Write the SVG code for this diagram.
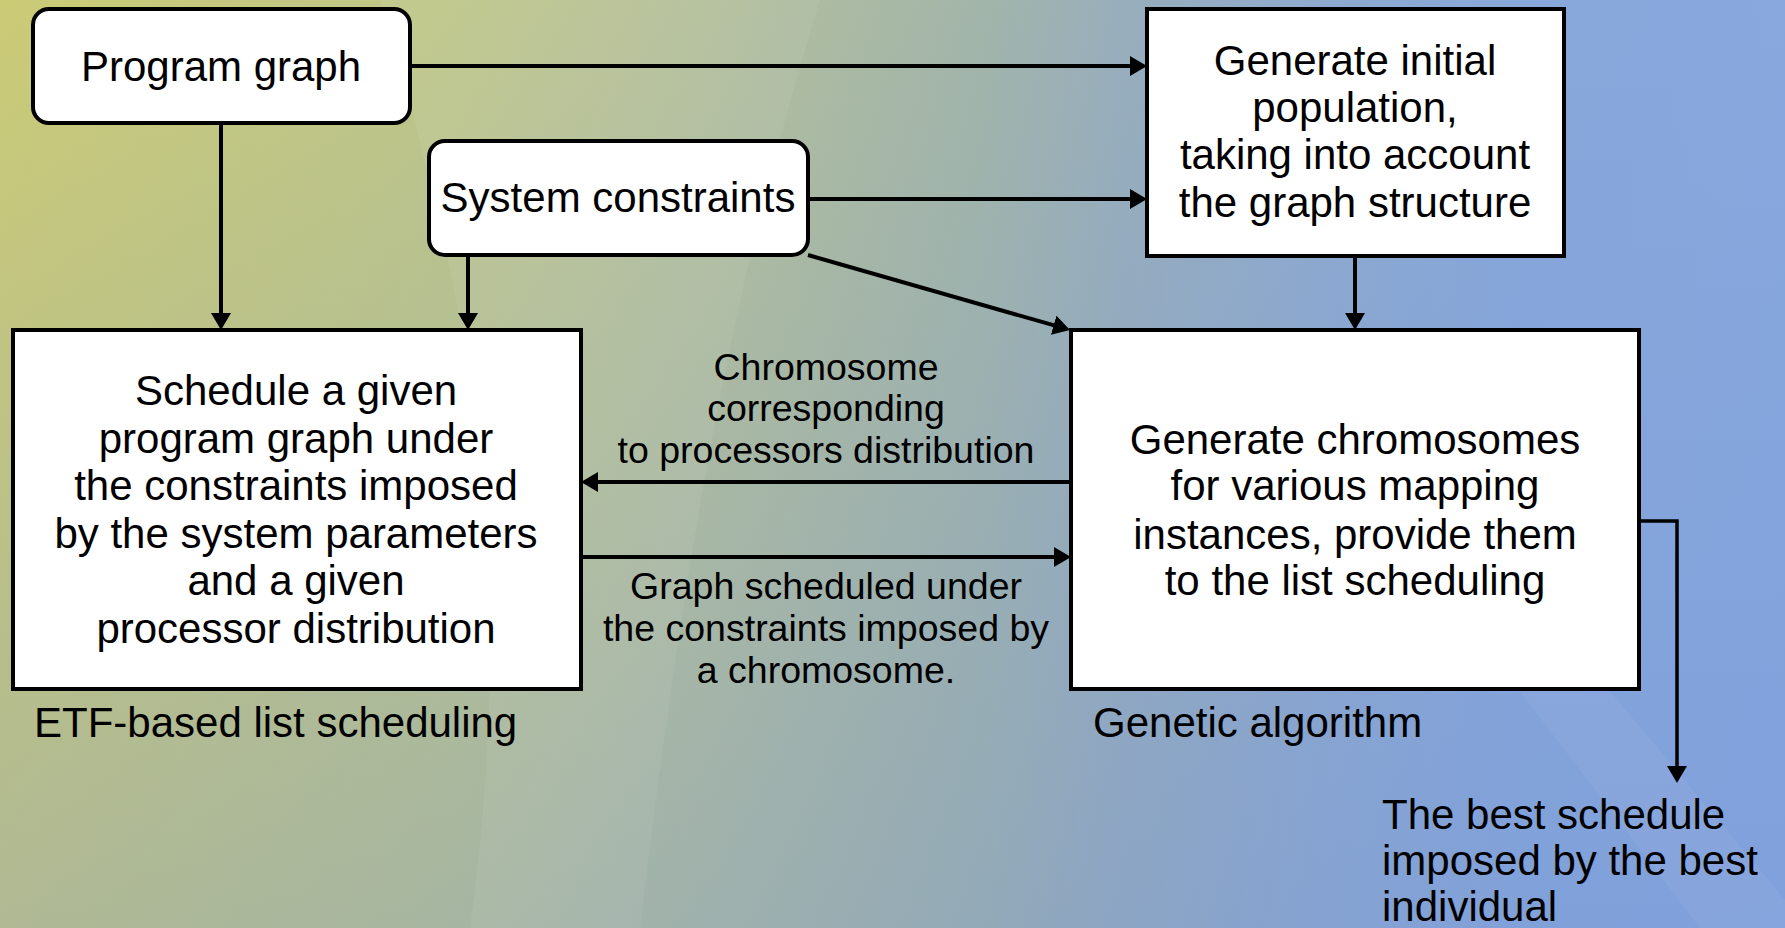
<svg xmlns="http://www.w3.org/2000/svg" width="1785" height="928" viewBox="0 0 1785 928">
  <defs>
    <!-- backdrop: warm olive on the left fading into slate blue on the right -->
    <linearGradient id="bg" gradientUnits="userSpaceOnUse" x1="0" y1="0" x2="1785" y2="0">
      <stop offset="0" stop-color="#cbcb76"/>
      <stop offset="0.25" stop-color="#bec689"/>
      <stop offset="0.4" stop-color="#b3bf9b"/>
      <stop offset="0.55" stop-color="#a2b5aa"/>
      <stop offset="0.63" stop-color="#98aebc"/>
      <stop offset="0.75" stop-color="#8eaad0"/>
      <stop offset="0.85" stop-color="#88a8da"/>
      <stop offset="1" stop-color="#88a8de"/>
    </linearGradient>
    <linearGradient id="shade" gradientUnits="userSpaceOnUse" x1="0" y1="0" x2="0" y2="928">
      <stop offset="0" stop-color="#6f8fd8" stop-opacity="0"/>
      <stop offset="1" stop-color="#6f8fd8" stop-opacity="0.3"/>
    </linearGradient>
    <marker id="arrow" markerUnits="userSpaceOnUse" markerWidth="17" markerHeight="20" refX="7" refY="10" orient="auto" viewBox="0 0 17 20">
      <path d="M0,0 L17,10 L0,20 z" fill="#000"/>
    </marker>
  </defs>
  <style>
    .box { fill: #fff; stroke: #000; stroke-width: 4; }
    .t { font-family: "Liberation Sans", Arial, sans-serif; font-size: 42px; fill: #000; }
    .c { text-anchor: middle; }
    .lbl { font-family: "Liberation Sans", Arial, sans-serif; font-size: 37.5px; fill: #000; text-anchor: middle; }
    .wire { fill: none; stroke: #000; stroke-width: 4; }
    .wire-thin { fill: none; stroke: #000; stroke-width: 3.5; }
  </style>

  <!-- background -->
  <rect x="0" y="0" width="1785" height="928" fill="url(#bg)"/>
  <rect x="0" y="0" width="1785" height="928" fill="url(#shade)"/>
  <path d="M380,0 L820,0 C760,200 700,420 640,928 L470,928 C520,560 470,300 380,0 z" fill="#ffffff" opacity="0.06"/>
  <path d="M1420,560 L1500,560 L1785,900 L1785,928 L1700,928 z" fill="#ffffff" opacity="0.05"/>

  <!-- connectors -->
  <g id="connectors">
    <line class="wire" x1="410" y1="66" x2="1137" y2="66" marker-end="url(#arrow)"/>
    <line class="wire" x1="808" y1="199" x2="1137" y2="199" marker-end="url(#arrow)"/>
    <line class="wire" x1="221" y1="123" x2="221" y2="320" marker-end="url(#arrow)"/>
    <line class="wire" x1="468" y1="255" x2="468" y2="320" marker-end="url(#arrow)"/>
    <line class="wire" x1="808" y1="255" x2="1060.4" y2="327.2" marker-end="url(#arrow)"/>
    <line class="wire" x1="1355" y1="256" x2="1355" y2="320" marker-end="url(#arrow)"/>
    <line class="wire" x1="1071" y1="482" x2="591" y2="482" marker-end="url(#arrow)"/>
    <line class="wire" x1="581" y1="557" x2="1061" y2="557" marker-end="url(#arrow)"/>
    <polyline class="wire-thin" points="1639,521 1677,521 1677,773" marker-end="url(#arrow)"/>
  </g>

  <!-- nodes -->
  <g id="program-graph">
    <rect class="box" x="33" y="9" width="377" height="114" rx="16"/>
    <text class="t c" x="221" y="81">Program graph</text>
  </g>

  <g id="system-constraints">
    <rect class="box" x="429" y="141" width="379" height="114" rx="16"/>
    <text class="t c" x="618" y="212">System constraints</text>
  </g>

  <g id="initial-population">
    <rect class="box" x="1147" y="9" width="417" height="247"/>
    <text class="t c" x="1355" y="75">Generate initial</text>
    <text class="t c" x="1355" y="122">population,</text>
    <text class="t c" x="1355" y="169">taking into account</text>
    <text class="t c" x="1355" y="217">the graph structure</text>
  </g>

  <g id="list-scheduling">
    <rect class="box" x="13" y="330" width="568" height="359"/>
    <text class="t c" x="296" y="405">Schedule a given</text>
    <text class="t c" x="296" y="453">program graph under</text>
    <text class="t c" x="296" y="500">the constraints imposed</text>
    <text class="t c" x="296" y="548">by the system parameters</text>
    <text class="t c" x="296" y="595">and a given</text>
    <text class="t c" x="296" y="643">processor distribution</text>
    <text class="t" x="34" y="737">ETF-based list scheduling</text>
  </g>

  <g id="genetic-algorithm">
    <rect class="box" x="1071" y="330" width="568" height="359"/>
    <text class="t c" x="1355" y="454">Generate chromosomes</text>
    <text class="t c" x="1355" y="500">for various mapping</text>
    <text class="t c" x="1355" y="549">instances, provide them</text>
    <text class="t c" x="1355" y="595">to the list scheduling</text>
    <text class="t" x="1093" y="737">Genetic algorithm</text>
  </g>

  <g id="edge-labels">
    <text class="lbl" x="826" y="380">Chromosome</text>
    <text class="lbl" x="826" y="421">corresponding</text>
    <text class="lbl" x="826" y="463">to processors distribution</text>
    <text class="lbl" x="826" y="599">Graph scheduled under</text>
    <text class="lbl" x="826" y="641">the constraints imposed by</text>
    <text class="lbl" x="826" y="683">a chromosome.</text>
  </g>

  <g id="best-schedule">
    <text class="t" x="1382" y="829">The best schedule</text>
    <text class="t" x="1382" y="875">imposed by the best</text>
    <text class="t" x="1382" y="921">individual</text>
  </g>
</svg>
